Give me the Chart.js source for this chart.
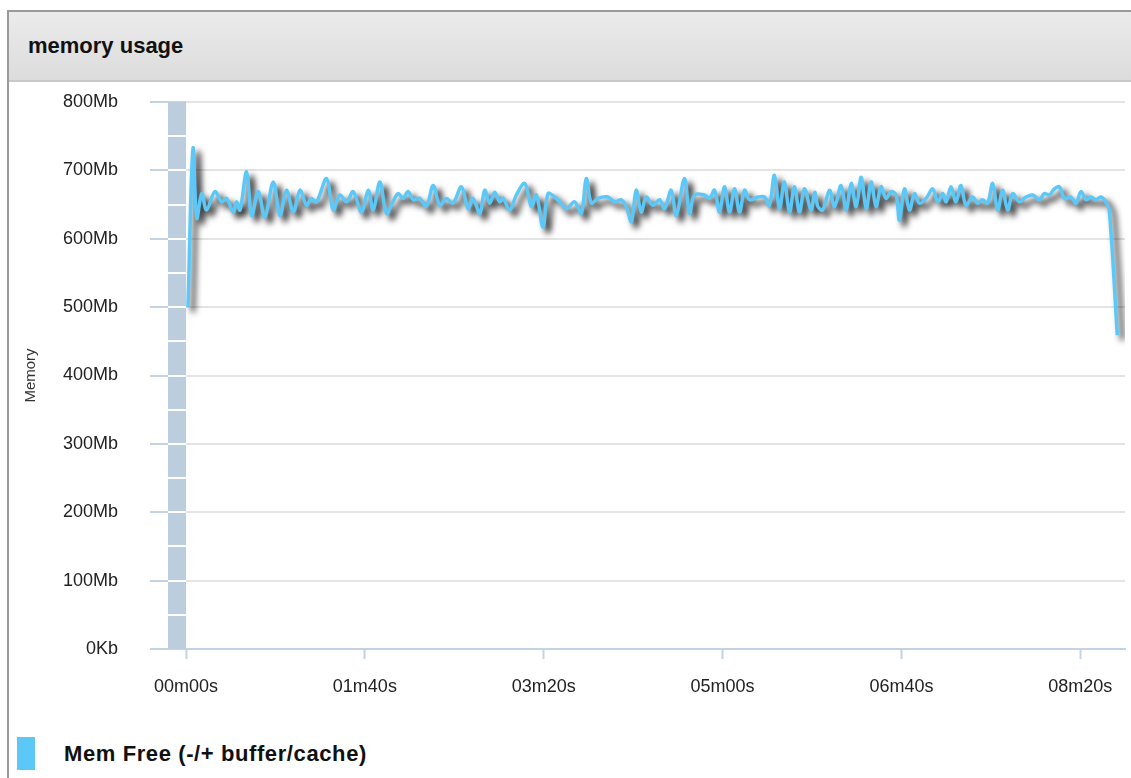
<!DOCTYPE html>
<html>
<head>
<meta charset="utf-8">
<script src="https://cdn.jsdelivr.net/npm/chart.js@4.4.1/dist/chart.umd.min.js"></script>
<style>
html,body{margin:0;padding:0;background:#fff;width:1131px;height:778px;overflow:hidden;font-family:"Liberation Sans",Arial,sans-serif;}
#panel{position:absolute;left:7px;top:10px;width:1140px;height:800px;border-left:2px solid #9a9a9a;border-top:2px solid #9a9a9a;box-sizing:border-box;}
#header{position:absolute;left:0;top:0;right:0;height:68px;background:linear-gradient(#ebebeb,#dcdcdc);border-bottom:2px solid #c8c8c8;display:flex;align-items:center;}
#title{padding-left:19px;font-size:22px;font-weight:bold;color:#111;}
#wrap{position:absolute;left:0;top:81px;width:1131px;height:640px;}
#legend{position:absolute;left:17px;top:737px;height:33px;display:flex;align-items:center;}
#legend .box{width:18px;height:33px;}
#legend .txt{margin-left:29px;font-size:22px;font-weight:bold;color:#111;letter-spacing:0.6px;}
</style>
</head>
<body>
<div id="panel"><div id="header"><div id="title">memory usage</div></div></div>
<div id="wrap"><canvas id="c" width="1131" height="640"></canvas></div>
<div id="legend"><div class="box" id="lbox"></div><div class="txt" id="ltxt"></div></div>
<script>
// ---- data ----
const seriesName = "Mem Free (-/+ buffer/cache)";
const axisTitle = "Memory";
const yTicks = [0,100,200,300,400,500,600,700,800];   // Mb
const xTicks = [0,100,200,300,400,500];               // seconds
const times = [
 1.1,3.9,6,8.8,11.5,16.2,19.9,22.7,26.4,28.3,30.2,33.9,36.7,40.4,44.1,48.8,52.5,56.2,60,63.7,
 67.4,70.2,73,78.6,82.3,86,89.8,93.5,98.1,101.9,104.7,108.4,112.1,115.3,118.6,121.4,124.2,127,130.7,134.4,
 138.2,141.9,145.6,149.3,154,157.7,160.5,164.3,167,169.8,172.6,175.4,177.3,181,184.7,189.4,193.1,195.9,199.6,202.4,
 206.1,208.9,212.6,217.3,221,223.8,226.6,230.3,235.9,239.6,243.4,246.2,249,251.7,254.5,257.3,261,264.8,267.6,271.3,
 274.1,278.7,281.5,284.3,289.9,292.7,295.5,298.3,301.1,303.9,306.7,309.5,312.3,315.1,319.7,323.4,326.2,329,331.8,334.6,
 337.4,340.2,343,345.8,349.5,351.5,353.3,356,359.8,362.6,366.3,369.1,371.9,374.7,377.5,380.3,383.1,385.8,388.6,391.4,
 394.2,397,398.9,401.7,404.5,407.3,410.1,413.8,417.5,420.3,423.1,425,427.7,430.5,433.3,436.1,439.8,442.6,445.4,448.2,
 451,453.8,456.6,459.4,462.2,465.9,469.6,473.4,477.1,479.9,482.7,485.5,488.3,491.1,494.8,497.6,500.4,503.2,506,508.8,
 511.5,514.3,516.2,520.7
];
const memFree = [
 500,732,630,666,642,669,654,659,639,654,642,698,634,669,632,683,634,671,639,671,
 649,659,654,688,642,664,654,669,639,671,642,683,637,652,666,659,669,657,659,647,
 678,649,659,652,676,644,659,637,671,652,668,654,659,642,664,681,647,664,617,666,
 661,654,644,654,637,688,652,659,661,654,657,647,625,671,639,661,649,657,644,671,
 634,688,637,664,664,659,671,639,676,639,673,639,671,657,661,661,649,693,644,683,
 639,676,639,673,642,668,647,642,671,647,678,642,681,647,690,644,683,647,676,659,
 669,664,627,673,642,666,652,659,673,654,666,654,676,654,678,649,661,652,657,652,
 681,642,671,642,666,654,661,664,657,666,664,673,676,659,661,652,669,657,661,657,
 661,654,642,459
];
// ---- styles ----
const lineColor = '#5cc8f8';
const axisBlue = '#c3d3e4';
const barBlue = '#bccddd';

document.getElementById('lbox').style.background = lineColor;
document.getElementById('ltxt').textContent = seriesName;

function fmtTime(v){
  const m = Math.floor(v/60), s = Math.round(v - m*60);
  return String(m).padStart(2,'0')+'m'+String(s).padStart(2,'0')+'s';
}
function fmtMem(v){ return v === 0 ? '0Kb' : v + 'Mb'; }

const shadowPlugin = {
  id:'shadow',
  beforeDatasetDraw(chart){
    const ctx = chart.ctx; ctx.save();
    ctx.shadowColor = 'rgba(0,0,0,0.9)';
    ctx.shadowBlur = 6; ctx.shadowOffsetX = 5; ctx.shadowOffsetY = 5;
  },
  afterDatasetDraw(chart){ chart.ctx.restore(); }
};
const axisBarPlugin = {
  id:'axisBar',
  beforeDatasetsDraw(chart){
    const ctx = chart.ctx, y = chart.scales.y, a = chart.chartArea;
    const top = y.getPixelForValue(800), bot = y.getPixelForValue(0);
    ctx.save();
    ctx.fillStyle = barBlue;
    ctx.fillRect(a.left-18, top, 18, bot-top);
    ctx.strokeStyle = '#ffffff'; ctx.lineWidth = 2;
    for (let v = 50; v < 800; v += 50){
      const py = Math.round(y.getPixelForValue(v));
      ctx.beginPath(); ctx.moveTo(a.left-18, py); ctx.lineTo(a.left, py); ctx.stroke();
    }
    ctx.restore();
  }
};

new Chart(document.getElementById('c'), {
  type:'line',
  data:{ datasets:[{
    label: seriesName,
    data: times.map((t,i)=>({x:t, y:memFree[i]})),
    borderColor: lineColor, backgroundColor: lineColor,
    borderWidth: 3.5, pointRadius: 0, tension: 0.35, fill:false
  }]},
  options:{
    responsive:false, animation:false,
    layout:{ padding:{ top:21, right:6, bottom:23, left:0 } },
    plugins:{ legend:{display:false}, tooltip:{enabled:false} },
    scales:{
      x:{
        type:'linear', min:0, max:525,
        afterBuildTicks(s){ s.ticks = xTicks.map(v=>({value:v})); },
        afterFit(s){ s.height = 49; },
        border:{ display:true, color:axisBlue, width:2 },
        grid:{ drawOnChartArea:false, drawTicks:true, tickLength:10, tickColor:axisBlue, tickWidth:2 },
        ticks:{ callback:(v)=>fmtTime(v), padding:17, maxRotation:0, autoSkip:false,
          color:'#222', font:{ family:'"Liberation Sans", Arial, sans-serif', size:18 } }
      },
      y:{
        min:0, max:800,
        afterBuildTicks(s){ s.ticks = yTicks.map(v=>({value:v})); },
        afterFit(s){ s.width = 186; s.paddingTop = 11; s.paddingBottom = 11; },
        border:{ display:false },
        grid:{ color:'#e4e4e4', lineWidth:2, drawTicks:true, tickLength:36, tickColor:axisBlue, tickWidth:2 },
        ticks:{ callback:(v)=>fmtMem(v), padding:32, color:'#222',
          font:{ family:'"Liberation Sans", Arial, sans-serif', size:18 } },
        title:{ display:true, text:axisTitle, color:'#333', padding:{top:22,bottom:0},
          font:{ family:'"Liberation Sans", Arial, sans-serif', size:15 } }
      }
    }
  },
  plugins:[axisBarPlugin, shadowPlugin]
});
</script>
</body>
</html>
